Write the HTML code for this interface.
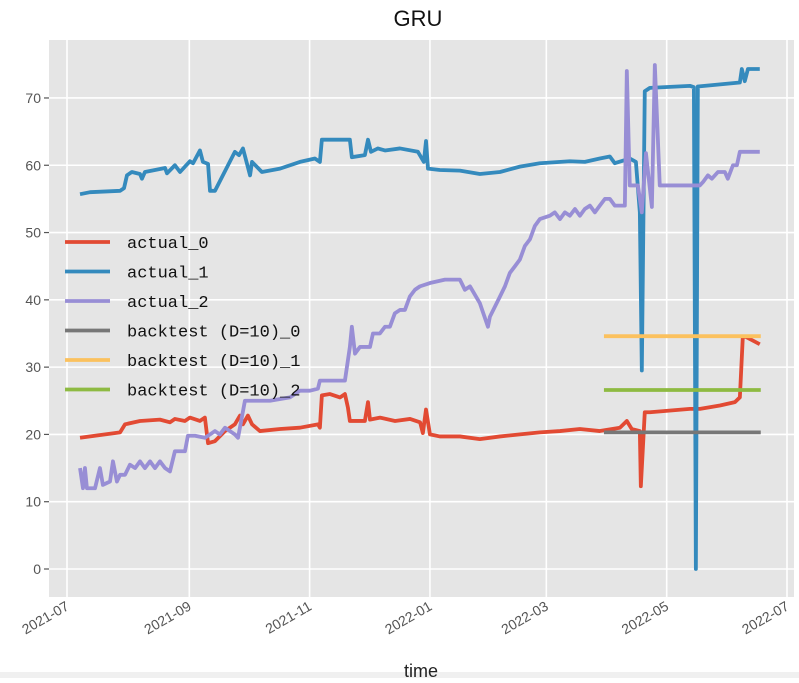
<!DOCTYPE html>
<html><head><meta charset="utf-8"><style>
body{margin:0;background:#fff;width:799px;height:678px;overflow:hidden;font-family:"Liberation Sans","Noto Sans CJK SC",sans-serif}
svg text{font-family:"WenQuanYi Zen Hei","Liberation Sans",sans-serif}
</style></head><body>
<svg id="chart" width="799" height="678" xmlns="http://www.w3.org/2000/svg"></svg>
<script>
// data: x values are days since 2021-07-01
const xTickLabels=["2021-07","2021-09","2021-11","2022-01","2022-03","2022-05","2022-07"];
const xTickDays=[0,62,123,184,243,304,365];
const yTicks=[0,10,20,30,40,50,60,70];
const seriesNames=["actual_0","actual_1","actual_2","backtest (D=10)_0","backtest (D=10)_1","backtest (D=10)_2"];
const a0Days=[6.6,26.9,29.4,37,47.1,52.2,54.7,59.8,62.3,67.4,69.9,71.5,75,80.1,85.1,87.7,89.2,91.7,93.8,97.8,108,118.1,127.2,128.2,129.2,133.3,138.4,140.9,142.4,143.4,151,152.6,153.6,158.7,166.3,173.9,179,180.4,182,184,189,199.2,209.3,219.5,229.6,239.7,249.9,260,270.1,280.3,283.8,286.3,290.4,290.9,292.9,295.5,315.8,320.9,331,338.6,341.1,342.6,344.1,351.2];
const a0Vals=[19.5,20.3,21.5,22,22.2,21.8,22.3,22,22.5,22,22.5,18.7,19,20.5,21.5,22.8,21.5,22.8,21.5,20.5,20.8,21,21.5,21,25.8,26,25.5,26,24,22,22,24.8,22.2,22.5,22,22.3,21.8,20.2,23.7,20,19.7,19.7,19.3,19.7,20,20.3,20.5,20.8,20.5,21,22,20.8,20.5,12.3,23.3,23.3,23.8,23.8,24.3,24.8,25.5,34.5,34.5,33.4];
const a1Days=[6.6,11.7,26.9,28.9,30.4,32.9,37,38,39.5,49.7,50.7,54.7,57.3,62.3,63.9,67.4,68.9,71.5,72.5,75,85.1,87.2,89.2,92.8,93.8,98.8,108,118.1,125.7,128.2,129.2,143.4,144.4,151,152.6,154.1,157.6,161.2,168.8,177.9,179.9,180.9,182,183,189,199.2,209.3,219.5,229.6,239.7,254.9,262.5,270.1,275.2,277.7,285.3,288.4,290.4,291.4,292.9,295.5,315.8,317.8,318.8,319.8,341.1,342.1,343.6,345.2,351.2];
const a1Vals=[55.7,56,56.2,56.6,58.5,59,58.7,58,59,59.6,58.8,60,59,60.6,60.3,62.2,60.5,60.2,56.2,56.2,62,61.5,62.5,58.5,60.5,59,59.5,60.5,61,60.5,63.8,63.8,61.2,61.5,63.8,62,62.5,62.2,62.5,62,61,60.5,63.6,59.5,59.3,59.2,58.7,59,59.8,60.3,60.6,60.5,61,61.3,60.3,61,60.5,53,29.5,71,71.5,71.8,71.6,0,71.7,72.3,74.3,72.5,74.3,74.3];
const a2Days=[6.6,8.1,9.1,10.1,14.2,16.7,18.2,21.8,23.3,25.3,26.9,29.4,31.9,34.5,37,39.5,42.1,44.6,47.1,49.7,52.2,54.7,59.8,61.3,64.9,69.9,72.5,75,77.5,80.1,85.1,86.7,90.2,102.9,113,118.1,123.2,127.2,128.2,140.9,143.4,144.4,146,148.5,153.6,155.1,158.6,161.2,163.7,166.2,168.8,171.3,173.8,176.4,178.9,184,191.6,199.2,201.7,204.3,209.3,213.4,214.4,219.5,222,224.5,227.1,229.6,232.1,234.7,237.2,239.7,244.8,247.3,249.9,252.4,254.9,257.5,260,262.5,265.1,267.6,270.1,272.7,275.2,277.7,282.8,283.8,285.3,289.4,291.4,293.5,296.5,298,300.5,320.8,322.4,324.9,326.9,330,333.5,335,337.6,339.6,341.1,351.2];
const a2Vals=[15,12,15,12,12,15,12.5,13,16,13,14,14,15.5,15,16,15,16,15,16,15,14.5,17.5,17.5,19.8,19.8,19.5,20,20.5,20,21,20,19.5,25,25,25.5,26.5,26.5,26.8,28,28,33,36,32,33,33,35,35,36,36,38,38.5,38.5,40.5,41.5,42,42.5,43,43,41.5,42,39.5,36,37.5,40.5,42,44,45,46,48,49,51,52,52.5,53,52,53,52.5,53.5,52.5,53.5,54,53,54,55,55,54,54,74,57,57,53,61.8,53.8,74.9,57,57,57.5,58.5,58,59,59,58,60,60,62,62];
const btStartDay=[272.2,272.2,272.2];
const btEndDay=[351.7,351.7,351.7];
const btVals=[20.3,34.6,26.6];
</script>
<script>
const svg=document.getElementById('chart');
const NS='http://www.w3.org/2000/svg';
const L=49,R=794,T=40,B=597;
const xs=d=>67+d*(720/365);
const ys=v=>569-v*6.729;
function mk(tag,attrs,parent){const e=document.createElementNS(NS,tag);for(const k in attrs)e.setAttribute(k,attrs[k]);(parent||svg).appendChild(e);return e;}
const strip=mk('rect',{x:0,y:672,width:799,height:6,fill:'#f0f0f0'});


const bg=mk('rect',{x:L,y:T,width:R-L,height:B-T,fill:'#e5e5e5'});


const grid=mk('g',{});


xTickDays.forEach((d,i)=>{
  const x=xs(d);
  mk('line',{x1:x,x2:x,y1:T,y2:B,stroke:'#fff','stroke-width':1.6},grid);
  const t=mk('text',{x:x+3,y:B+12,'font-size':14,fill:'#555','text-anchor':'end',transform:`rotate(-30 ${x+3} ${B+12})`});
  t.textContent=xTickLabels[i];
  
  
});
yTicks.forEach(v=>{
  const y=ys(v);
  mk('line',{x1:L,x2:R,y1:y,y2:y,stroke:'#fff','stroke-width':1.6},grid);
  mk('line',{x1:L-5,x2:L,y1:y,y2:y,stroke:'#555','stroke-width':1.2},grid);
  const t=mk('text',{x:L-8,y:y+5,'font-size':14,fill:'#555','text-anchor':'end'});
  t.textContent=v;
  
  
});
const colors=['#E24A33','#348ABD','#988ED5','#777777','#FBC15E','#8EBA42'];
function line(days,vals,c,name){
  const n=Math.min(days.length,vals.length);
  const pts=[];for(let i=0;i<n;i++)pts.push(xs(days[i])+','+ys(vals[i]));
  const p=mk('polyline',{points:pts.join(' '),fill:'none',stroke:c,'stroke-width':3.8,'stroke-linejoin':'round'});
  
  
}
line(a0Days,a0Vals,colors[0],'series-actual-0');
line(a1Days,a1Vals,colors[1],'series-actual-1');
line(a2Days,a2Vals,colors[2],'series-actual-2');
btVals.forEach((v,i)=>{
  const l=mk('line',{x1:xs(btStartDay[i]),x2:xs(btEndDay[i]),y1:ys(v),y2:ys(v),stroke:colors[3+i],'stroke-width':3.8});
  
  
});
const lg=mk('g',{});


seriesNames.forEach((n,i)=>{
  const y=242+i*29.5;
  mk('line',{x1:65,x2:110,y1:y,y2:y,stroke:colors[i],'stroke-width':3.8},lg);
  const t=mk('text',{x:127,y:y+6,'font-size':17,fill:'#111'},lg);
  t.setAttribute('style','font-family:"Liberation Mono",monospace');
  t.textContent=n;
  
  
});
const title=mk('text',{x:418,y:26,'font-size':22,fill:'#111','text-anchor':'middle'});
title.textContent='GRU';


const xt=mk('text',{x:421,y:677,'font-size':18,fill:'#222','text-anchor':'middle'});
xt.textContent='time';


</script>
</body></html>
